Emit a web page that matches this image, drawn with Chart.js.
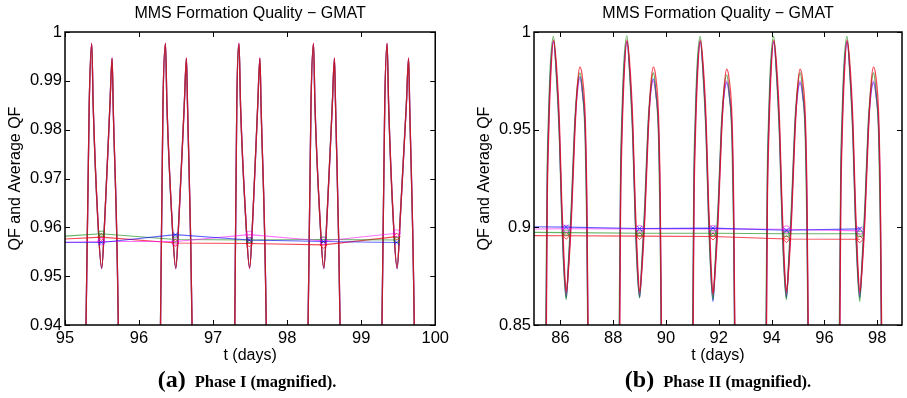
<!DOCTYPE html>
<html>
<head>
<meta charset="utf-8">
<script src="https://cdn.jsdelivr.net/npm/chart.js@4.4.1/dist/chart.umd.min.js"></script>
<style>
  html, body { margin:0; padding:0; background:#fff; }
  #wrap { position:relative; width:907px; height:398px; overflow:hidden; background:#fff; }
  .pane { position:absolute; top:0; height:398px; }
  .cap { position:absolute; top:367px; width:400px; text-align:center; white-space:nowrap;
         font-family:"Liberation Serif","Times New Roman",serif; font-weight:bold; color:#000; line-height:24px; }
  .cap .lt { font-size:24px; }
  .cap .tx { font-size:16.5px; margin-left:9px; }
</style>
</head>
<body>
<div id="wrap">
  <div class="pane" style="left:0;width:453px"><canvas id="cA" width="453" height="398"></canvas></div>
  <div class="pane" style="left:453px;width:454px"><canvas id="cB" width="454" height="398"></canvas></div>
  <div class="cap" style="left:47px"><span class="lt">(a)</span><span class="tx">Phase I (magnified).</span></div>
  <div class="cap" style="left:518px"><span class="lt">(b)</span><span class="tx">Phase II (magnified).</span></div>
</div>
<script>
// ---------------- Common text ----------------
const TITLE = "MMS Formation Quality \u2212 GMAT";
const X_TITLE = "t (days)";
const Y_TITLE = "QF and Average QF";

// ---------------- Panel (a): Phase I ----------------
const X_TICKS_A = [95, 96, 97, 98, 99, 100];
const X_LABELS_A = ["95", "96", "97", "98", "99", "100"];
const Y_TICKS_A = [0.94, 0.95, 0.96, 0.97, 0.98, 0.99, 1];
const Y_LABELS_A = ["0.94", "0.95", "0.96", "0.97", "0.98", "0.99", "1"];

const T_A = [
  95.20, 95.284, 95.327, 95.361, 95.381, 95.441, 95.495, 95.540, 95.607, 95.636, 95.651, 95.720, 95.80,
  96.21, 96.290, 96.323, 96.357, 96.377, 96.442, 96.496, 96.541, 96.611, 96.640, 96.655, 96.716, 96.80,
  97.21, 97.293, 97.320, 97.350, 97.371, 97.439, 97.493, 97.538, 97.603, 97.632, 97.648, 97.718, 97.80,
  98.20, 98.283, 98.322, 98.356, 98.376, 98.441, 98.495, 98.540, 98.610, 98.639, 98.654, 98.715, 98.80,
  99.20, 99.281, 99.318, 99.350, 99.371, 99.431, 99.485, 99.530, 99.610, 99.640, 99.655, 99.717, 99.80
];
const QF_A_GREEN = [
  0.80, 0.941, 0.9855, 0.9975, 0.9845, 0.9620, 0.9518, 0.9630, 0.9855, 0.9945, 0.9845, 0.939, 0.80,
  0.80, 0.941, 0.9855, 0.9975, 0.9845, 0.9621, 0.9518, 0.9630, 0.9855, 0.9945, 0.9845, 0.939, 0.80,
  0.80, 0.941, 0.9854, 0.9974, 0.9844, 0.9620, 0.9519, 0.9629, 0.9854, 0.9945, 0.9845, 0.939, 0.80,
  0.80, 0.941, 0.9855, 0.9975, 0.9845, 0.9621, 0.9518, 0.9630, 0.9855, 0.9945, 0.9845, 0.939, 0.80,
  0.80, 0.941, 0.9855, 0.9975, 0.9845, 0.9620, 0.9518, 0.9630, 0.9855, 0.9945, 0.9845, 0.939, 0.80
];
const QF_A_BLUE = [
  0.80, 0.9405, 0.9850, 0.9976, 0.9848, 0.9622, 0.9515, 0.9626, 0.9850, 0.9946, 0.9848, 0.9395, 0.80,
  0.80, 0.9405, 0.9850, 0.9976, 0.9848, 0.9622, 0.9515, 0.9626, 0.9850, 0.9946, 0.9848, 0.9395, 0.80,
  0.80, 0.9405, 0.9851, 0.9976, 0.9847, 0.9623, 0.9516, 0.9625, 0.9850, 0.9946, 0.9848, 0.9395, 0.80,
  0.80, 0.9405, 0.9850, 0.9976, 0.9848, 0.9622, 0.9515, 0.9626, 0.9850, 0.9946, 0.9848, 0.9395, 0.80,
  0.80, 0.9405, 0.9850, 0.9976, 0.9848, 0.9622, 0.9515, 0.9626, 0.9850, 0.9946, 0.9848, 0.9395, 0.80
];
const QF_A_MAGENTA = [
  0.80, 0.9402, 0.9852, 0.9977, 0.9850, 0.9624, 0.9517, 0.9626, 0.9852, 0.9947, 0.9850, 0.9398, 0.80,
  0.80, 0.9402, 0.9852, 0.9977, 0.9850, 0.9624, 0.9517, 0.9626, 0.9852, 0.9947, 0.9850, 0.9398, 0.80,
  0.80, 0.9402, 0.9852, 0.9977, 0.9850, 0.9624, 0.9517, 0.9626, 0.9852, 0.9947, 0.9850, 0.9398, 0.80,
  0.80, 0.9402, 0.9852, 0.9977, 0.9850, 0.9624, 0.9517, 0.9626, 0.9852, 0.9947, 0.9850, 0.9398, 0.80,
  0.80, 0.9402, 0.9852, 0.9977, 0.9850, 0.9624, 0.9517, 0.9626, 0.9852, 0.9947, 0.9850, 0.9398, 0.80
];
const QF_A_RED = [
  0.80, 0.9400, 0.9850, 0.9977, 0.9850, 0.9625, 0.9516, 0.9625, 0.9850, 0.9947, 0.9850, 0.9400, 0.80,
  0.80, 0.9400, 0.9850, 0.9977, 0.9850, 0.9625, 0.9516, 0.9625, 0.9850, 0.9947, 0.9850, 0.9400, 0.80,
  0.80, 0.9400, 0.9850, 0.9977, 0.9850, 0.9625, 0.9516, 0.9625, 0.9850, 0.9947, 0.9850, 0.9400, 0.80,
  0.80, 0.9400, 0.9850, 0.9977, 0.9850, 0.9625, 0.9516, 0.9625, 0.9850, 0.9947, 0.9850, 0.9400, 0.80,
  0.80, 0.9400, 0.9850, 0.9977, 0.9850, 0.9625, 0.9516, 0.9625, 0.9850, 0.9947, 0.9850, 0.9400, 0.80
];
// average QF (first point lies left of the visible window)
const AVG_T_A = [94.5, 95.49, 96.49, 97.49, 98.49, 99.48];
const AVG_A_BLUE    = [0.9570, 0.9569, 0.9585, 0.9574, 0.9571, 0.9569];
const AVG_A_GREEN   = [0.9577, 0.9587, 0.9575, 0.9574, 0.9575, 0.9574];
const AVG_A_MAGENTA = [0.9567, 0.9571, 0.9571, 0.9585, 0.9572, 0.9588];
const AVG_A_RED     = [0.9572, 0.9580, 0.9568, 0.9567, 0.9564, 0.9581];

// ---------------- Panel (b): Phase II ----------------
const X_TICKS_B = [86, 88, 90, 92, 94, 96, 98];
const X_LABELS_B = ["86", "88", "90", "92", "94", "96", "98"];
const Y_TICKS_B = [0.85, 0.9, 0.95, 1];
const Y_LABELS_B = ["0.85", "0.9", "0.95", "1"];

const T_B = [
  85.40, 85.46, 85.50, 85.55, 85.62, 85.74, 85.85, 85.96, 86.05, 86.14, 86.22, 86.30, 86.42, 86.54, 86.64, 86.74, 86.84, 86.94, 87.00, 87.04, 87.10,
  88.18, 88.24, 88.28, 88.33, 88.40, 88.52, 88.63, 88.74, 88.83, 88.92, 89.00, 89.08, 89.20, 89.32, 89.42, 89.52, 89.62, 89.72, 89.78, 89.82, 89.88,
  90.96, 91.02, 91.06, 91.11, 91.18, 91.30, 91.41, 91.52, 91.61, 91.70, 91.78, 91.86, 91.98, 92.10, 92.20, 92.30, 92.40, 92.50, 92.56, 92.60, 92.66,
  93.74, 93.80, 93.84, 93.89, 93.96, 94.08, 94.19, 94.30, 94.39, 94.48, 94.56, 94.64, 94.76, 94.88, 94.98, 95.08, 95.18, 95.28, 95.34, 95.38, 95.44,
  96.52, 96.58, 96.62, 96.67, 96.74, 96.86, 96.97, 97.08, 97.17, 97.26, 97.34, 97.42, 97.54, 97.66, 97.76, 97.86, 97.96, 98.06, 98.12, 98.16, 98.22
];
const QF_B_GREEN = [
  0.79, 0.87, 0.930, 0.957, 0.983, 0.9978, 0.977, 0.946, 0.905, 0.876, 0.863, 0.881, 0.913, 0.953, 0.972, 0.979, 0.969, 0.945, 0.900, 0.84, 0.77,
  0.79, 0.87, 0.930, 0.957, 0.983, 0.9980, 0.977, 0.946, 0.905, 0.876, 0.864, 0.881, 0.913, 0.953, 0.971, 0.979, 0.969, 0.945, 0.900, 0.84, 0.77,
  0.79, 0.87, 0.930, 0.957, 0.983, 0.9977, 0.977, 0.946, 0.905, 0.876, 0.863, 0.881, 0.913, 0.953, 0.971, 0.978, 0.968, 0.945, 0.900, 0.84, 0.77,
  0.79, 0.87, 0.930, 0.957, 0.983, 0.9978, 0.977, 0.946, 0.905, 0.876, 0.863, 0.881, 0.913, 0.953, 0.971, 0.979, 0.969, 0.945, 0.900, 0.84, 0.77,
  0.79, 0.87, 0.930, 0.957, 0.983, 0.9978, 0.977, 0.946, 0.905, 0.876, 0.862, 0.881, 0.913, 0.953, 0.971, 0.979, 0.969, 0.945, 0.900, 0.84, 0.77
];
const QF_B_BLUE = [
  0.78, 0.85, 0.920, 0.951, 0.978, 0.995, 0.979, 0.949, 0.908, 0.878, 0.864, 0.879, 0.909, 0.950, 0.970, 0.977, 0.969, 0.949, 0.908, 0.85, 0.78,
  0.78, 0.85, 0.920, 0.951, 0.978, 0.995, 0.979, 0.949, 0.908, 0.878, 0.864, 0.879, 0.909, 0.950, 0.969, 0.976, 0.968, 0.949, 0.908, 0.85, 0.78,
  0.78, 0.85, 0.920, 0.951, 0.978, 0.995, 0.979, 0.949, 0.908, 0.877, 0.862, 0.878, 0.909, 0.950, 0.968, 0.974, 0.967, 0.949, 0.908, 0.85, 0.78,
  0.78, 0.85, 0.920, 0.951, 0.978, 0.995, 0.979, 0.949, 0.908, 0.878, 0.864, 0.879, 0.909, 0.950, 0.968, 0.974, 0.967, 0.949, 0.908, 0.85, 0.78,
  0.78, 0.85, 0.920, 0.951, 0.978, 0.995, 0.979, 0.949, 0.908, 0.878, 0.864, 0.879, 0.909, 0.950, 0.968, 0.974, 0.967, 0.949, 0.908, 0.85, 0.78
];
const QF_B_MAGENTA = [
  0.78, 0.85, 0.920, 0.950, 0.978, 0.995, 0.979, 0.950, 0.909, 0.879, 0.865, 0.879, 0.909, 0.950, 0.969, 0.976, 0.968, 0.950, 0.909, 0.85, 0.78,
  0.78, 0.85, 0.920, 0.950, 0.978, 0.995, 0.979, 0.950, 0.909, 0.879, 0.865, 0.879, 0.909, 0.950, 0.969, 0.975, 0.968, 0.950, 0.909, 0.85, 0.78,
  0.78, 0.85, 0.920, 0.950, 0.978, 0.995, 0.979, 0.950, 0.909, 0.879, 0.865, 0.879, 0.909, 0.950, 0.969, 0.975, 0.968, 0.950, 0.909, 0.85, 0.78,
  0.78, 0.85, 0.920, 0.950, 0.978, 0.995, 0.979, 0.950, 0.909, 0.879, 0.865, 0.879, 0.909, 0.950, 0.969, 0.975, 0.968, 0.950, 0.909, 0.85, 0.78,
  0.78, 0.85, 0.920, 0.950, 0.978, 0.995, 0.979, 0.950, 0.909, 0.879, 0.865, 0.879, 0.909, 0.950, 0.969, 0.975, 0.968, 0.950, 0.909, 0.85, 0.78
];
const QF_B_RED = [
  0.77, 0.83, 0.910, 0.944, 0.973, 0.996, 0.983, 0.955, 0.914, 0.883, 0.867, 0.877, 0.905, 0.946, 0.972, 0.982, 0.976, 0.956, 0.917, 0.86, 0.79,
  0.77, 0.83, 0.910, 0.944, 0.973, 0.996, 0.983, 0.955, 0.914, 0.883, 0.867, 0.877, 0.905, 0.946, 0.972, 0.982, 0.976, 0.956, 0.917, 0.86, 0.79,
  0.77, 0.83, 0.910, 0.944, 0.973, 0.996, 0.983, 0.955, 0.914, 0.883, 0.866, 0.877, 0.905, 0.946, 0.971, 0.981, 0.975, 0.956, 0.917, 0.86, 0.79,
  0.77, 0.83, 0.910, 0.944, 0.973, 0.996, 0.983, 0.955, 0.914, 0.883, 0.867, 0.877, 0.905, 0.946, 0.971, 0.981, 0.975, 0.956, 0.917, 0.86, 0.79,
  0.77, 0.83, 0.910, 0.944, 0.973, 0.996, 0.983, 0.955, 0.914, 0.883, 0.867, 0.877, 0.905, 0.946, 0.972, 0.982, 0.976, 0.956, 0.917, 0.86, 0.79
];
const AVG_T_B = [84.5, 86.22, 89.00, 91.78, 94.56, 97.34];
const AVG_B_BLUE    = [0.9004, 0.9001, 0.8994, 0.8996, 0.8985, 0.8992];
const AVG_B_MAGENTA = [0.8991, 0.8993, 0.8992, 0.8992, 0.8990, 0.8982];
const AVG_B_GREEN   = [0.8975, 0.8973, 0.8970, 0.8970, 0.8967, 0.8967];
const AVG_B_RED     = [0.8958, 0.8957, 0.8955, 0.8953, 0.8940, 0.8939];

// ---------------- Styling ----------------
const COL = {
  blue: 'rgba(0,0,255,0.6)',
  green: 'rgba(0,128,0,0.6)',
  magenta: 'rgba(255,0,255,0.55)',
  red: 'rgba(240,0,20,0.72)'
};
const SANS = '"Liberation Sans", Arial, Helvetica, sans-serif';

const frame = {
  id: 'frame',
  afterDatasetsDraw(chart) {
    const {ctx, chartArea: a} = chart;
    const xs = chart.scales.x, ys = chart.scales.y;
    const L = 5;
    ctx.save();
    ctx.strokeStyle = '#000';
    ctx.lineWidth = 1;
    ctx.beginPath();
    xs.ticks.forEach(t => {
      const p = Math.round(xs.getPixelForValue(t.value)) + 0.5;
      ctx.moveTo(p, a.bottom); ctx.lineTo(p, a.bottom - L);
      ctx.moveTo(p, a.top); ctx.lineTo(p, a.top + L);
    });
    ys.ticks.forEach(t => {
      const p = Math.round(ys.getPixelForValue(t.value)) + 0.5;
      ctx.moveTo(a.left, p); ctx.lineTo(a.left + L, p);
      ctx.moveTo(a.right, p); ctx.lineTo(a.right - L, p);
    });
    ctx.stroke();
    ctx.lineWidth = 1.5;
    ctx.strokeRect(a.left, a.top, a.right - a.left, a.bottom - a.top);
    ctx.restore();
  }
};

function pts(xs, ys) { return xs.map((x, i) => ({x: x, y: ys[i]})); }

function qfSet(xs, ys, color) {
  return { data: pts(xs, ys), borderColor: color, borderWidth: 1.3, pointRadius: 0,
           cubicInterpolationMode: 'monotone', fill: false, clip: 0 };
}
function avgSet(xs, ys, color, style) {
  return { data: pts(xs, ys), borderColor: color, borderWidth: 1.1, pointRadius: 3.5,
           pointStyle: style, pointBorderColor: color, pointBackgroundColor: 'rgba(0,0,0,0)',
           pointBorderWidth: 1, tension: 0, fill: false, clip: 0 };
}

// datasets with a lower index are painted on top
function makeChart(id, cfg) {
  return new Chart(document.getElementById(id), {
    type: 'line',
    data: { datasets: [
      avgSet(cfg.avgT, cfg.avgBlue, COL.blue, 'crossRot'),
      avgSet(cfg.avgT, cfg.avgMagenta, COL.magenta, 'circle'),
      avgSet(cfg.avgT, cfg.avgGreen, COL.green, 'rect'),
      avgSet(cfg.avgT, cfg.avgRed, COL.red, 'rectRot'),
      qfSet(cfg.t, cfg.red, COL.red),
      qfSet(cfg.t, cfg.green, COL.green),
      qfSet(cfg.t, cfg.magenta, COL.magenta),
      qfSet(cfg.t, cfg.blue, COL.blue)
    ]},
    options: {
      responsive: false, animation: false, devicePixelRatio: 1, events: [],
      layout: { padding: { left: 0, right: cfg.padRight, top: 0, bottom: 0 } },
      plugins: {
        legend: { display: false }, tooltip: { enabled: false },
        title: { display: true, text: TITLE, fullSize: false, color: '#000',
                 font: { family: SANS, size: 16, weight: 'normal', lineHeight: 1.2 },
                 padding: { top: 4, bottom: 8.8 } }
      },
      scales: {
        x: {
          type: 'linear', min: cfg.xMin, max: cfg.xMax,
          grid: { display: false, drawTicks: false }, border: { display: false },
          afterBuildTicks: s => { s.ticks = cfg.xTicks.map(v => ({ value: v })); },
          afterFit: s => { s.height = 73; },
          ticks: { autoSkip: false, maxRotation: 0, padding: 4, color: '#000',
                   font: { family: SANS, size: 16.5 },
                   callback: (v, i) => cfg.xLabels[i] },
          title: { display: true, text: X_TITLE, color: '#000',
                   font: { family: SANS, size: 16, lineHeight: 1.2 }, padding: { top: 0, bottom: 33 } }
        },
        y: {
          type: 'linear', min: cfg.yMin, max: cfg.yMax,
          grid: { display: false, drawTicks: false }, border: { display: false },
          afterBuildTicks: s => { s.ticks = cfg.yTicks.map(v => ({ value: v })); },
          afterFit: s => { s.width = cfg.yWidth; },
          ticks: { autoSkip: false, padding: 3, color: '#000',
                   font: { family: SANS, size: 16.5 },
                   callback: (v, i) => cfg.yLabels[i] },
          title: { display: true, text: Y_TITLE, color: '#000',
                   font: { family: SANS, size: 16, lineHeight: 1.2 }, padding: { top: cfg.yTitlePad, bottom: 0 } }
        }
      }
    },
    plugins: [frame]
  });
}

makeChart('cA', {
  t: T_A, red: QF_A_RED, magenta: QF_A_MAGENTA, blue: QF_A_BLUE, green: QF_A_GREEN,
  avgT: AVG_T_A, avgBlue: AVG_A_BLUE, avgMagenta: AVG_A_MAGENTA, avgGreen: AVG_A_GREEN, avgRed: AVG_A_RED,
  xMin: 95, xMax: 100, yMin: 0.94, yMax: 1,
  xTicks: X_TICKS_A, xLabels: X_LABELS_A, yTicks: Y_TICKS_A, yLabels: Y_LABELS_A,
  yWidth: 65, padRight: 17, yTitlePad: 6
});
makeChart('cB', {
  t: T_B, red: QF_B_RED, magenta: QF_B_MAGENTA, blue: QF_B_BLUE, green: QF_B_GREEN,
  avgT: AVG_T_B, avgBlue: AVG_B_BLUE, avgMagenta: AVG_B_MAGENTA, avgGreen: AVG_B_GREEN, avgRed: AVG_B_RED,
  xMin: 85, xMax: 98.94, yMin: 0.85, yMax: 1,
  xTicks: X_TICKS_B, xLabels: X_LABELS_B, yTicks: Y_TICKS_B, yLabels: Y_LABELS_B,
  yWidth: 81, padRight: 1, yTitlePad: 22
});
</script>
</body>
</html>
